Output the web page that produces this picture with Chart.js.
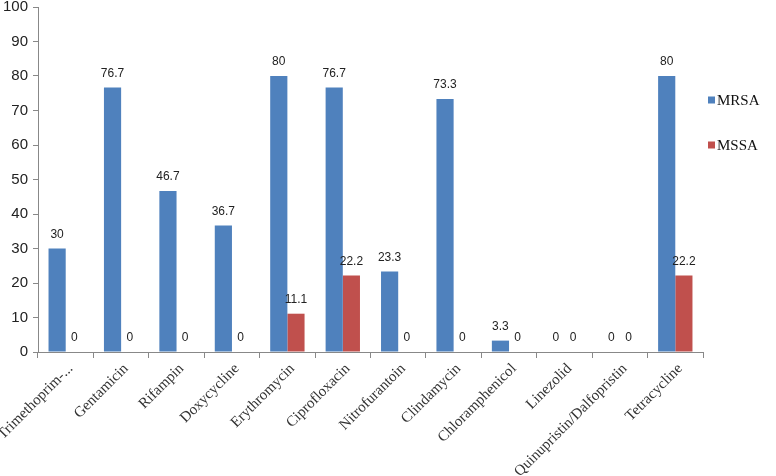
<!DOCTYPE html>
<html>
<head>
<meta charset="utf-8">
<script src="https://cdn.jsdelivr.net/npm/chart.js@4"></script>
<style>
  html, body { margin: 0; padding: 0; background: #fff; }
  #wrap { width: 776px; height: 476px; }
</style>
</head>
<body>
<div id="wrap"><canvas id="resistChart"></canvas></div>
<script>
const categories = ["Trimethoprim-...", "Gentamicin", "Rifampin", "Doxycycline", "Erythromycin", "Ciprofloxacin",
  "Nitrofurantoin", "Clindamycin", "Chloramphenicol", "Linezolid", "Quinupristin/Dalfopristin", "Tetracycline"];
const mrsaValues = [30, 76.7, 46.7, 36.7, 80, 76.7, 23.3, 73.3, 3.3, 0, 0, 80];
const mssaValues = [0, 0, 0, 0, 11.1, 22.2, 0, 0, 0, 0, 0, 22.2];
const seriesNames = ["MRSA", "MSSA"];
const yTicks = [0, 10, 20, 30, 40, 50, 60, 70, 80, 90, 100];

// value labels above each bar
const barLabels = {
  id: "barLabels",
  afterDatasetsDraw(chart) {
    const ctx = chart.ctx;
    ctx.save();
    ctx.font = '12px "Liberation Sans", Arial, sans-serif';
    ctx.fillStyle = "#222";
    ctx.textAlign = "center";
    ctx.textBaseline = "bottom";
    chart.data.datasets.forEach((ds, i) => {
      chart.getDatasetMeta(i).data.forEach((bar, j) => {
        ctx.fillText(String(ds.data[j]), bar.x, bar.y - 8);
      });
    });
    ctx.restore();
  }
};

// legend on the right with wide spacing
const sideLegend = {
  id: "sideLegend",
  afterDraw(chart) {
    const ctx = chart.ctx;
    const x = chart.chartArea.right + 5;
    ctx.save();
    ctx.font = '15px "Liberation Serif", "Times New Roman", serif';
    ctx.textBaseline = "middle";
    ctx.textAlign = "left";
    chart.data.datasets.forEach((ds, i) => {
      const y = 100 + i * 45;
      ctx.fillStyle = ds.backgroundColor;
      ctx.fillRect(x, y - 3.5, 7, 7);
      ctx.fillStyle = "#111";
      ctx.fillText(ds.label, x + 9, y + 1);
    });
    ctx.restore();
  }
};

new Chart(document.getElementById("resistChart"), {
  type: "bar",
  data: {
    labels: categories,
    datasets: [
      { label: seriesNames[0], data: mrsaValues, backgroundColor: "#4F81BD" },
      { label: seriesNames[1], data: mssaValues, backgroundColor: "#C0504D" }
    ]
  },
  options: {
    responsive: true,
    maintainAspectRatio: false,
    animation: false,
    layout: { padding: { top: 7, right: 73, left: 0, bottom: 0 } },
    datasets: { bar: { barPercentage: 1, categoryPercentage: 0.62 } },
    plugins: {
      legend: { display: false },
      tooltip: { enabled: false }
    },
    scales: {
      x: {
        grid: { drawOnChartArea: false, color: "#888", tickLength: 6, offset: true },
        border: { color: "#888" },
        ticks: {
          autoSkip: false,
          maxRotation: 45,
          minRotation: 45,
          padding: 2,
          labelOffset: 5,
          color: "#333",
          font: { family: '"Liberation Serif", "Times New Roman", serif', size: 15 }
        },
        afterFit(scale) {
          scale.height = 124;
          scale.paddingLeft = 0;
          scale.paddingRight = 0;
        }
      },
      y: {
        min: 0,
        max: 100,
        grid: { drawOnChartArea: false, color: "#888", tickLength: 5 },
        border: { color: "#888" },
        afterBuildTicks(scale) { scale.ticks = yTicks.map(v => ({ value: v })); },
        ticks: {
          padding: 5,
          color: "#222",
          font: { family: '"Liberation Sans", Arial, sans-serif', size: 15 }
        },
        afterFit(scale) {
          scale.width = 38;
          scale.paddingTop = 0;
          scale.paddingBottom = 0;
        }
      }
    }
  },
  plugins: [barLabels, sideLegend]
});
</script>
</body>
</html>
